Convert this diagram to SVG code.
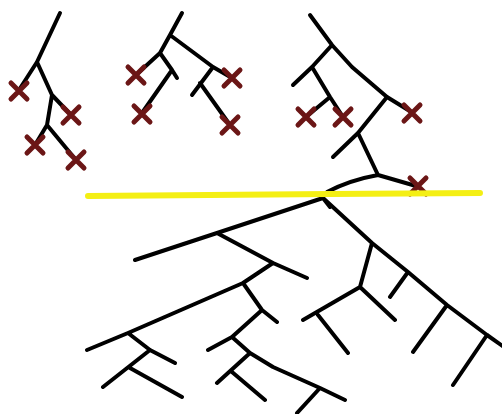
<svg xmlns="http://www.w3.org/2000/svg" width="502" height="414" viewBox="0 0 502 414">
<style>
.br{fill:none;stroke:#000;stroke-width:4;stroke-linecap:round;stroke-linejoin:round}
.x{fill:none;stroke:#6b1616;stroke-width:5;stroke-linecap:round}
.cut{fill:none;stroke:#f4ef14;stroke-width:6;stroke-linecap:round}
</style>
<defs>
<path id="xm" class="x" d="M-8,-8 L8,8 M8,-8 L-8,8"/>
</defs>
<rect width="502" height="414" fill="#fff"/>
<g id="connectors">
<g id="tree-left">
<path class="br" d="M60,13 L37,62 L19,90 M37,62 L52,95 L71,115 M52,95 L47,125 L35,145 M47,125 L76,160"/>
</g>
<g id="tree-middle">
<path class="br" d="M182,13 L170,35 L160,53 L136,75 M170,35 L213,67 L232,78 M160,53 L172,70 L177,78 M172,70 L142,113 M213,67 L192,95 M200,83 L230,125"/>
</g>
<g id="tree-right">
<path class="br" d="M310,15 L332,45 L352,67 L387,97 L413,113 M332,45 L312,67 L293,85 M312,67 L330,97 L343,117 M330,97 L306,117 M387,97 L358,133 L333,157 M358,133 L378,175 L416,186 M378,175 Q350,180 327,192"/>
</g>
<g id="tree-lower">
<path class="br" d="M330,207 L323,198 L217,233 L135,260 M217,233 L273,263 L307,278 M273,263 L243,283 L128,333 L87,350 M243,283 L262,310 L277,322 M262,310 L232,337 L208,350 M232,337 L250,353 L273,367 L320,388 L345,400 M250,353 L217,383 M232,372 L265,400 M320,388 L297,413 M128,333 L150,350 L175,363 M150,350 L103,387 M130,368 L182,397 M323,198 L372,243 L408,272 L447,305 L487,335 L504,347 M372,243 L360,287 M360,287 L303,320 M360,287 L395,320 M318,315 L348,353 M408,272 L390,297 M447,305 L413,352 M487,335 L453,385"/>
</g>
</g>
<g id="marks">
<use href="#xm" x="19" y="91"/>
<use href="#xm" x="71" y="115"/>
<use href="#xm" x="35" y="145"/>
<use href="#xm" x="76" y="160"/>
<use href="#xm" x="136" y="75"/>
<use href="#xm" x="142" y="114"/>
<use href="#xm" x="232" y="78"/>
<use href="#xm" x="230" y="125"/>
<use href="#xm" x="306" y="117"/>
<use href="#xm" x="343" y="117"/>
<use href="#xm" x="412" y="113"/>
<use href="#xm" x="418" y="186"/>
</g>
<g id="cut-line">
<path class="cut" d="M88,196 L330,194 L480,193"/>
</g>
</svg>
